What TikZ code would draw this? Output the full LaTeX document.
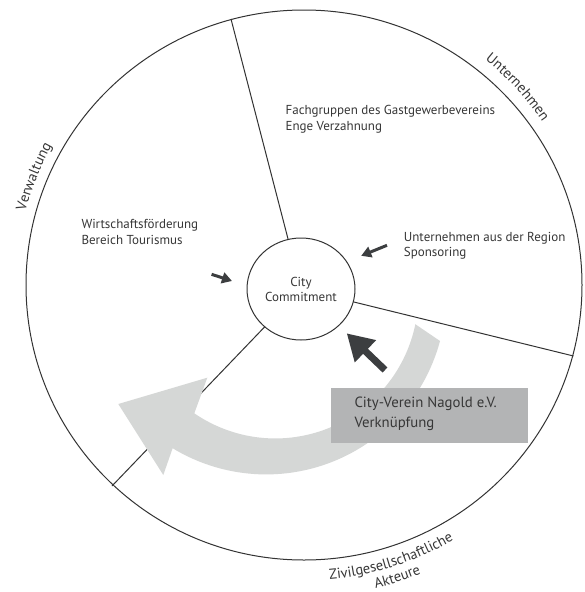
\documentclass[tikz,border=0pt]{standalone}
\usepackage{fontspec}
\setmainfont{PT Sans}
\usetikzlibrary{arrows.meta,shapes.geometric,decorations.text}
\definecolor{linec}{RGB}{51,51,51}
\definecolor{txtc}{RGB}{55,55,55}
\definecolor{darkarr}{RGB}{60,62,64}
\definecolor{bandc}{RGB}{213,215,214}
\definecolor{boxc}{RGB}{179,180,181}
\newcommand\ringfont{\fontsize{14.5}{14.5}\selectfont\color{txtc}}
\begin{document}
\begin{tikzpicture}[x=1pt,y=1pt,
  ringline/.style={draw=linec, line width=1pt},
  circlenode/.style={ellipse, draw=linec, line width=1pt, inner sep=0pt, outer sep=0pt},
  smalltext/.style={font=\fontsize{13}{15.8}\selectfont, text=txtc, align=left, inner sep=0pt, anchor=west},
  darkarrow/.style={draw=darkarr, line width=3pt, -{Triangle[length=10pt,width=11pt]}},
  bigarrow/.style={draw=darkarr, line width=7pt, -{Triangle[length=26pt,width=29pt]}},
  boxnode/.style={fill=boxc, minimum width=197pt, minimum height=55pt, inner sep=0pt, anchor=north west},
  boxtext/.style={font=\fontsize{14.8}{20.7}\selectfont, text=txtc, align=left, inner sep=0pt, anchor=west},
  ringlabel/.style={decorate, decoration={text along path, text align=center, text={|\ringfont|#1}}}
]
\useasboundingbox (0,0) rectangle (584,-592);
\fill[white] (0,0) rectangle (584,-592);
% outer ring
\node[circlenode, minimum width=556pt, minimum height=550pt] (big) at (304,-285) {};
% centre
\node[circlenode, fill=white, minimum width=108pt, minimum height=102pt, font=\fontsize{13}{15}\selectfont, text=txtc, align=center] (cc) at (301,-289) {City\\Commitment};
% sector dividers
\coordinate (b1) at (231,-19);
\coordinate (b2) at (573.5,-356);
\coordinate (b3) at (112,-486);
\draw[ringline] (cc) -- (b1);
\draw[ringline] (cc) -- (b2);
\draw[ringline] (cc) -- (b3);
% light curved arrow
\fill[bandc] (415,-324) -- (440,-341) arc[start angle=-15, end angle=-121.3, radius=180]
  -- (163.3,-475) -- (118.3,-404) -- (207.3,-377.7) -- (194.3,-413.3)
  arc[start angle=-124.5, end angle=-11.7, radius=143] -- cycle;
% grey box
\node[boxnode] (cv) at (331,-388) {};
\node[boxtext] (cvt) at (354.3,-413.7) {City-Verein Nagold e.V.\\Verknüpfung};
% dark arrows
\coordinate (la1) at (211.6,-274.3); \coordinate (la2) at (232,-281);
\draw[darkarrow] (la1) -- (la2);
\coordinate (ra1) at (387,-245.3); \coordinate (ra2) at (361.2,-255.8);
\draw[darkarrow] (ra1) -- (ra2);
\coordinate (ba1) at (385,-370); \coordinate (ba2) at (346.7,-333.3);
\draw[bigarrow] (ba1) -- (ba2);
% sector texts
\node[smalltext] (fg) at (285.4,-118.9) {Fachgruppen des Gastgewerbevereins\\Enge Verzahnung};
\node[smalltext] (wf) at (81.3,-231.7) {Wirtschaftsförderung\\Bereich Tourismus};
\node[smalltext] (ua) at (403.7,-245.7) {Unternehmen aus der Region\\Sponsoring};
% ring labels
\path[ringlabel=Unternehmen] ([shift={(62.8:289)}]304,-285) arc[start angle=62.8, end angle=22.8, radius=289];
\path[ringlabel=Verwaltung] ([shift={(178.2:288)}]304,-285) arc[start angle=178.2, end angle=138.2, radius=288];
\path[ringlabel=Zivilgesellschaftliche] ([shift={(-112.3:295.5)}]304,-285) arc[start angle=-112.3, end angle=-32.3, radius=295.5];
\path[ringlabel=Akteure] ([shift={(-112.3:311.5)}]304,-285) arc[start angle=-112.3, end angle=-32.3, radius=311.5];
\end{tikzpicture}
\end{document}
